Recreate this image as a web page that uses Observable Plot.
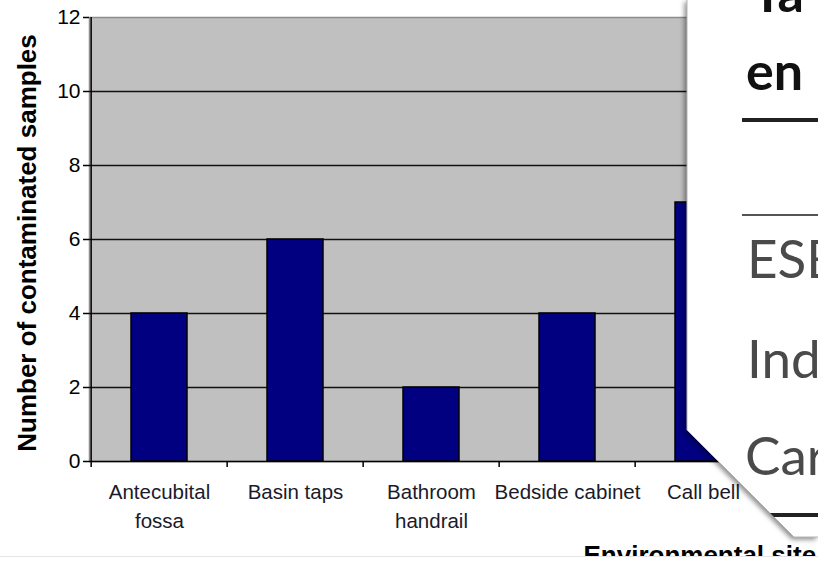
<!DOCTYPE html>
<html>
<head>
<meta charset="utf-8">
<script src="https://cdn.jsdelivr.net/npm/d3@7"></script>
<script src="https://cdn.jsdelivr.net/npm/@observablehq/plot@0.6"></script>
<style>
  html, body { margin: 0; padding: 0; background: #fff; }
  #page { position: relative; width: 818px; height: 562px; overflow: hidden; background: #fff; }
  #chart { position: absolute; left: 0; top: 0; width: 818px; height: 556px; overflow: hidden; }
  #edge { position: absolute; left: 0; top: 556px; width: 818px; height: 1px; background: #e6e6e6; }
  #overlay { position: absolute; left: 0; top: 0; width: 818px; height: 562px; pointer-events: none;
             filter: drop-shadow(-2px 2px 2.5px rgba(0,0,0,0.45)); }
  #overlay text { font-family: Lato, "Open Sans", sans-serif; }
</style>
</head>
<body>
<div id="page">
  <div id="chart"></div>
  <div id="edge"></div>
  <svg id="overlay" width="818" height="562" viewBox="0 0 818 562">
    <defs>
      <clipPath id="pop"><polygon points="687,-20 900,-20 900,537 794,537 687,430"></polygon></clipPath>
    </defs>
    <polygon points="687,-20 900,-20 900,537 794,537 687,430" fill="#fff" stroke="#b5b5b5" stroke-width="1"></polygon>
    <g clip-path="url(#pop)">
      <text x="752" y="12" font-size="52" font-weight="700" fill="#111">Ta</text>
      <text x="746" y="90" font-size="52" font-weight="700" fill="#111">en</text>
      <rect x="742" y="118" width="120" height="4" fill="#222"></rect>
      <rect x="742" y="214" width="120" height="2" fill="#555"></rect>
      <text x="747" y="278" font-size="53" font-weight="400" fill="#4a4a4a">ESB</text>
      <text x="747" y="378" font-size="53" font-weight="400" fill="#4a4a4a">Ind</text>
      <text x="745" y="475" font-size="53" font-weight="400" fill="#4a4a4a">Car</text>
      <rect x="742" y="513" width="120" height="4" fill="#222"></rect>
    </g>
  </svg>
</div>
<script>
// ---- data ----
const sites = ["Antecubital\nfossa", "Basin taps", "Bathroom\nhandrail", "Bedside cabinet", "Call bell"];
const contaminated = [4, 6, 2, 4, 7];
const yTicks = [0, 2, 4, 6, 8, 10, 12];
const gridTicks = [2, 4, 6, 8, 10];
const yLabel = "Number of contaminated samples";
const xLabel = "Environmental site";

// ---- layout ----
const W = 818, H = 575;
const mLeft = 89, mTop = 17, yBase = 461;
const xRight = 772.4;
const step = (xRight - mLeft) / sites.length;
const font = "'Liberation Sans', Arial, Helvetica, sans-serif";

const data = sites.map((s, i) => ({site: s, n: contaminated[i]}));

const chart = Plot.plot({
  width: W,
  height: H,
  marginLeft: mLeft,
  marginTop: mTop,
  marginBottom: H - yBase,
  marginRight: 0,
  style: {fontFamily: font, background: "transparent", color: "#000"},
  x: {domain: sites, range: [mLeft, xRight], paddingInner: 0.59, paddingOuter: 0.295, label: null},
  y: {domain: [0, 12], ticks: yTicks, label: null},
  marks: [
    Plot.frame({fill: "#c0c0c0", stroke: "#8c8c8c", strokeWidth: 1.5}),
    Plot.gridY(gridTicks, {stroke: "#111", strokeOpacity: 1, strokeWidth: 1.5}),
    Plot.barY(data, {x: "site", y: "n", fill: "#000080", stroke: "#000", strokeWidth: 1.5}),
    Plot.ruleY([0], {stroke: "#000", strokeWidth: 1.5}),
    Plot.ruleX([sites[0]], {dx: -step / 2, stroke: "#000", strokeWidth: 1.5}),
    Plot.axisY({ticks: yTicks, tickSize: 6, tickPadding: 3, fontSize: 21, label: null, strokeWidth: 1.5}),
    Plot.axisX({tickSize: 0, tickPadding: 17, fontSize: 20.5, lineHeight: 1.42, label: null, fill: "#1a1a2a"}),
    Plot.axisX({tickSize: 6, tickFormat: () => "", dx: -step / 2, label: null, strokeWidth: 1.5}),
    Plot.text([yLabel], {frameAnchor: "left", textAnchor: "middle", lineAnchor: "middle", dx: -61.5, dy: 3.5, rotate: -90, fontSize: 26, fontWeight: "bold", fill: "#000"}),
    Plot.text([xLabel], {frameAnchor: "bottom-left", textAnchor: "start", lineAnchor: "top", dx: 583 - mLeft, dy: 84, fontSize: 26, fontWeight: "bold", fill: "#000"})
  ]
});
document.getElementById("chart").appendChild(chart);
</script>
</body>
</html>
